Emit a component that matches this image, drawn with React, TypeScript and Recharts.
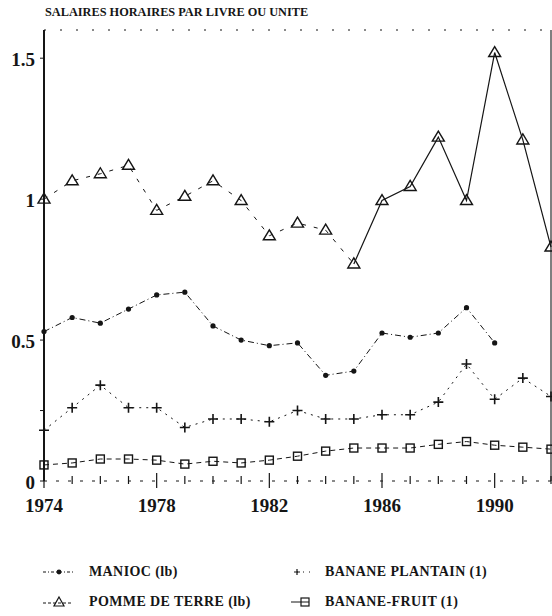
import React from 'react';
import { LineChart, Line, XAxis, YAxis, ReferenceLine } from 'recharts';

const years = [1974, 1975, 1976, 1977, 1978, 1979, 1980, 1981, 1982, 1983, 1984, 1985, 1986, 1987, 1988, 1989, 1990, 1991, 1992];
const manioc = [0.53, 0.58, 0.56, 0.61, 0.66, 0.67, 0.55, 0.5, 0.48, 0.49, 0.375, 0.39, 0.525, 0.51, 0.525, 0.615, 0.49, null, null];
const pommeDeTerre = [1.0, 1.065, 1.09, 1.12, 0.96, 1.01, 1.065, 0.995, 0.87, 0.915, 0.89, 0.77, 0.995, 1.045, 1.22, 0.995, 1.52, 1.21, 0.83];
const plantain = [0.18, 0.26, 0.34, 0.26, 0.26, 0.19, 0.22, 0.22, 0.21, 0.25, 0.22, 0.22, 0.235, 0.235, 0.28, 0.415, 0.29, 0.365, 0.3];
const bananeFruit = [0.057, 0.064, 0.078, 0.078, 0.074, 0.06, 0.07, 0.064, 0.074, 0.088, 0.106, 0.117, 0.117, 0.117, 0.13, 0.14, 0.127, 0.12, 0.113];
const xLabels = [1974, 1978, 1982, 1986, 1990];
const yTicks = [0, 0.25, 0.5, 1, 1.5];
const solidFrom = 1985;

const data = years.map((year, i) => ({
  year,
  manioc: manioc[i],
  potatoEarly: year <= solidFrom ? pommeDeTerre[i] : null,
  potatoLate: year >= solidFrom ? pommeDeTerre[i] : null,
  potato: pommeDeTerre[i],
  plantain: plantain[i],
  fruit: bananeFruit[i],
}));

const INK = '#151515';
const FONT = "'Liberation Serif', 'Times New Roman', serif";

const Dot = (p: any) =>
  p.value == null ? null : <circle key={p.index} cx={p.cx} cy={p.cy} r={2.6} fill={INK} />;
const Tri = (p: any) =>
  p.value == null ? null : (
    <path key={p.index} d={`M${p.cx},${p.cy - 6} L${p.cx + 6},${p.cy + 4} L${p.cx - 6},${p.cy + 4} Z`} fill="none" stroke={INK} strokeWidth={1.4} />
  );
const Plus = (p: any) =>
  p.value == null ? null : (
    <path key={p.index} d={`M${p.cx - 5},${p.cy} H${p.cx + 5} M${p.cx},${p.cy - 5} V${p.cy + 5}`} stroke={INK} strokeWidth={1.6} />
  );
const Sq = (p: any) =>
  p.value == null ? null : (
    <rect key={p.index} x={p.cx - 4} y={p.cy - 4} width={8} height={8} fill="none" stroke={INK} strokeWidth={1.4} />
  );

const XTick = (p: any) => {
  const { x, y, payload } = p;
  const major = xLabels.includes(payload.value);
  return (
    <g>
      <line x1={x} x2={x} y1={major ? y - 16 : y - 13} y2={major ? y - 1 : y - 5} stroke={INK} strokeWidth={1.2} />
      {major && (
        <text x={x} y={y + 23} textAnchor="middle" fontFamily={FONT} fontWeight="bold" fontSize={19} fill={INK}>
          {payload.value}
        </text>
      )}
    </g>
  );
};

const YTick = (p: any) => {
  const { payload, y } = p;
  if (payload.value === 0.25) return <g />;
  return (
    <text x={35} y={y + 8} textAnchor="end" fontFamily={FONT} fontWeight="bold" fontSize={19} fill={INK}>
      {String(payload.value)}
    </text>
  );
};

function LegendItem({ label, w, children }: { label: string; w: number; children: React.ReactNode }) {
  return (
    <div style={{ display: 'flex', alignItems: 'center', height: 30 }}>
      <svg width={w} height={14}>{children}</svg>
      <span style={{ fontFamily: FONT, fontWeight: 'bold', fontSize: 14, letterSpacing: 0.4, color: INK, whiteSpace: 'nowrap' }}>{label}</span>
    </div>
  );
}

export default function App() {
  return (
    <div style={{ position: 'relative', width: 552, height: 616, background: '#fff' }}>
      <style>{'body{margin:0}'}</style>
      <div style={{ position: 'absolute', left: 45, top: 5, fontFamily: FONT, fontWeight: 'bold', fontSize: 12.3, color: INK, whiteSpace: 'nowrap' }}>
        SALAIRES HORAIRES PAR LIVRE OU UNITE
      </div>
      <LineChart width={552} height={616} data={data} margin={{ top: 30, right: 1, left: 0, bottom: 0 }}>
        <XAxis
          dataKey="year"
          type="number"
          domain={[1974, 1992]}
          ticks={years}
          interval={0}
          tick={<XTick />}
          tickLine={false}
          axisLine={{ stroke: INK, strokeDasharray: '3 9', strokeWidth: 1 }}
          height={135}
        />
        <YAxis
          type="number"
          domain={[0, 1.6]}
          ticks={yTicks}
          interval={0}
          width={44}
          tick={<YTick />}
          tickSize={4}
          tickLine={{ stroke: INK }}
          axisLine={{ stroke: INK, strokeWidth: 2 }}
        />
        <ReferenceLine y={1.6} stroke={INK} strokeDasharray="2 14" strokeWidth={1} />
        <ReferenceLine x={1992} stroke="#555" strokeWidth={1.5} />
        <Line dataKey="manioc" stroke={INK} strokeWidth={1} strokeDasharray="6 3 1 3" dot={<Dot />} isAnimationActive={false} />
        <Line dataKey="potatoEarly" stroke={INK} strokeWidth={1} strokeDasharray="4 8" dot={false} isAnimationActive={false} />
        <Line dataKey="potatoLate" stroke={INK} strokeWidth={1.2} dot={false} isAnimationActive={false} />
        <Line dataKey="potato" stroke="none" dot={<Tri />} isAnimationActive={false} />
        <Line dataKey="plantain" stroke={INK} strokeWidth={1} strokeDasharray="2 5" dot={<Plus />} isAnimationActive={false} />
        <Line dataKey="fruit" stroke={INK} strokeWidth={1} strokeDasharray="5 4" dot={<Sq />} isAnimationActive={false} />
      </LineChart>
      <div style={{ position: 'absolute', left: 42, top: 557, display: 'flex' }}>
        <div style={{ width: 243 }}>
          <LegendItem label="MANIOC (lb)" w={47}>
            <line x1={1} x2={31} y1={7} y2={7} stroke={INK} strokeDasharray="3 2 1 2" />
            <circle cx={17} cy={7} r={2.4} fill={INK} />
          </LegendItem>
          <LegendItem label="POMME DE TERRE (lb)" w={47}>
            <line x1={1} x2={31} y1={8} y2={8} stroke={INK} strokeDasharray="3 2" />
            <path d="M17,2 L22,11 L12,11 Z" fill="none" stroke={INK} strokeWidth={1.2} />
          </LegendItem>
        </div>
        <div>
          <LegendItem label="BANANE PLANTAIN (1)" w={40}>
            <line x1={12} x2={28} y1={7} y2={7} stroke={INK} strokeDasharray="1 5" />
            <path d="M12,4 V10 M9,7 H15" stroke={INK} strokeWidth={1.2} />
          </LegendItem>
          <LegendItem label="BANANE-FRUIT (1)" w={40}>
            <line x1={6} x2={24} y1={7} y2={7} stroke={INK} />
            <rect x={16} y={3} width={8} height={8} fill="none" stroke={INK} strokeWidth={1.2} />
          </LegendItem>
        </div>
      </div>
    </div>
  );
}
